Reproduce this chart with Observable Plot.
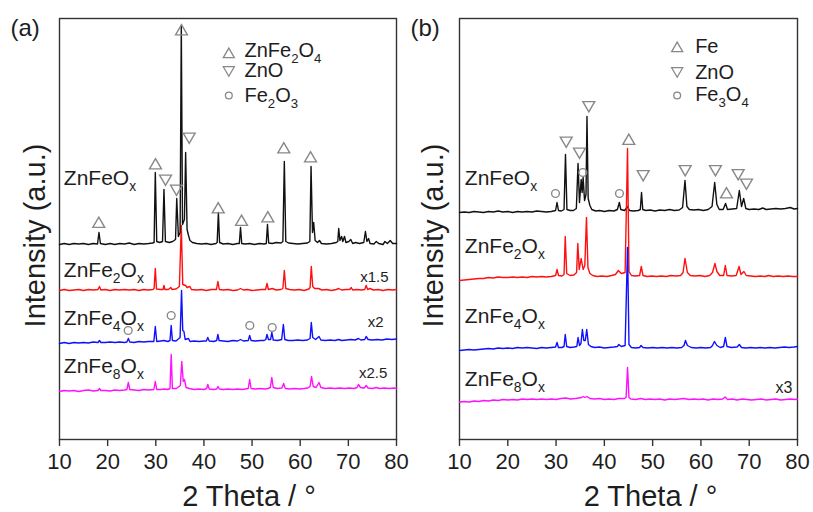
<!DOCTYPE html>
<html><head><meta charset="utf-8">
<script src="https://cdn.jsdelivr.net/npm/d3@7"></script>
<script src="https://cdn.jsdelivr.net/npm/@observablehq/plot@0.6"></script>
<style>
html,body{margin:0;padding:0;background:#fff;}
#wrap{position:relative;width:813px;height:512px;overflow:hidden;background:#fff;}
.panel{position:absolute;top:0;}
svg{overflow:visible;}
</style></head>
<body><div id="wrap"><div class="panel" id="pa" style="left:0"></div><div class="panel" id="pb" style="left:406px"></div></div>
<script>
// ---------- DATA (2θ in degrees, intensity in arbitrary display units above each trace's baseline) ----------
const xTicks = [10, 20, 30, 40, 50, 60, 70, 80];
const sampleNames = ["ZnFeO_{x}", "ZnFe_{2}O_{x}", "ZnFe_{4}O_{x}", "ZnFe_{8}O_{x}"];

// Panel (a)
const a_ZnFeOx = [[10,0],[11,1],[12,0],[13,1],[14,0.5],[15,1],[16,0],[17,1],[17.9,0.5],[18.2,12],[18.5,1],[19.5,0],[20.5,1],[21.5,0],[22.5,1],[23.5,0.5],[24.5,1.5],[25.5,0],[26.5,1],[27.5,0.5],[28.5,1],[29.3,1.5],[29.65,2],[29.9,72],[30.2,3],[30.8,2],[31.4,3],[31.7,55],[32,3],[32.8,2],[33.5,3],[34.1,5],[34.35,46],[34.7,8],[35.05,12],[35.3,219],[35.55,20],[35.95,25],[36.2,92],[36.5,15],[36.8,9],[37.1,4],[37.6,2],[38.5,1],[39.5,0.5],[40.5,1],[41.5,0],[42.5,1],[42.75,2],[43.0,32],[43.25,2],[44,0.5],[45,1],[46,0],[47,1],[47.35,1],[47.6,17],[47.85,1],[48.5,0.5],[49.5,1],[50.5,0],[51.5,1],[52.5,0.5],[52.95,1],[53.2,20],[53.45,1.5],[54.2,1],[55,2],[56,1.5],[56.4,3],[56.7,83],[57,3],[57.6,1.5],[58.5,1],[59.5,0.5],[60.5,1],[61.5,1.5],[62.0,3],[62.25,78],[62.55,12],[62.8,22],[63.1,4],[63.6,2],[64.0,4],[64.4,1],[65.5,0.5],[66.5,1],[67.5,2],[67.8,3],[68.0,16],[68.25,4],[68.6,8],[68.85,3],[69.2,8],[69.5,2],[70.1,3],[70.5,5],[70.9,1],[71.5,2],[72.3,1],[73.2,2],[73.55,13],[73.85,3],[74.2,6],[74.5,1],[75.3,0.5],[75.8,3],[76.3,1],[77.2,0],[77.6,3],[78.1,1],[78.7,4],[79.2,1],[80,1]];
const a_ZnFe2Ox = [[10,0],[11,1],[12,0],[13,0.5],[14,1],[15,0],[16,1],[17,0.5],[18,1],[18.3,4],[18.6,0.5],[19.5,1],[20.5,0],[21.5,1],[22.5,0.5],[23.5,1],[24.5,0.5],[25.5,1],[26.5,0],[27.5,1],[28.5,0.5],[29.4,1],[29.65,2],[29.9,22],[30.15,1.5],[31,1],[31.5,1],[31.7,5],[31.9,1],[32.6,1],[33.1,3],[33.4,1],[34.2,1.5],[34.9,4],[35.3,65],[35.6,6],[36.2,5],[36.5,3],[37.1,4],[37.4,1],[38.5,0.5],[39.5,1],[40.5,0],[41.5,1],[42.6,1],[42.9,9],[43.2,1],[44,0.5],[45,1],[46,0],[47,0.5],[47.6,2],[48.2,0.5],[49,1],[50,0],[51,0.5],[52,1],[52.8,1],[53.1,7],[53.4,1],[54.2,2],[55,0.5],[56,1],[56.4,2],[56.7,20],[57,2],[57.8,1],[58.8,0.5],[59.8,1],[60.8,0],[61.8,1.5],[62.05,3],[62.3,24],[62.6,4],[63,2],[63.8,2],[64.5,0.5],[65.5,1],[66.5,0],[67.5,1],[68,2],[68.6,0.5],[69.5,1],[70.3,1],[70.6,3],[70.9,0.5],[71.8,1],[72.7,0.5],[73.4,1],[73.7,5],[74.0,1],[74.5,2],[75.2,0.5],[76.2,1],[77.2,0],[78.2,1],[79.2,0.5],[80,1]];
const a_ZnFe4Ox = [[10,0],[11,1],[12,0],[13,1],[14,0.5],[15,1],[16,0.5],[17,1.5],[18,1],[18.3,3],[18.6,1],[19.5,1],[20.5,1.5],[21.5,1],[22.5,1.5],[23.5,1],[24.0,1.5],[24.3,5],[24.6,1.5],[25.5,1],[26.5,2],[27.5,1.5],[28.5,2],[29.6,2],[29.9,17],[30.2,2],[31,2.5],[31.7,3],[32.5,2],[32.95,3],[33.2,18],[33.45,3],[34.2,2.5],[35.05,6],[35.35,53],[35.6,13],[35.85,12],[36.1,4],[36.8,5],[37.1,2],[38,2.5],[39,2],[40,2.5],[40.5,2.5],[40.8,6],[41.1,2.5],[42,2],[42.65,3],[42.9,9],[43.15,3],[44,2.5],[45,2],[46,3],[47,2.5],[47.6,4],[48.2,2.5],[49.2,3],[49.5,8],[49.8,3],[50.7,2.5],[51.7,3],[52.5,3],[52.85,4],[53.1,9],[53.4,4],[53.85,4],[54.1,11],[54.4,3.5],[55.3,3],[56.15,4],[56.5,19],[56.8,4],[57.5,3],[58.5,3],[59.5,3.5],[60.5,3],[61.5,3.5],[62.05,5],[62.3,21],[62.6,6],[63.2,4],[63.9,7],[64.3,3.5],[65.2,3],[66.2,3.5],[67.2,3],[68,4],[68.6,3],[69.6,3.5],[70.6,4],[71.4,3.5],[72.1,5],[72.6,3.5],[73.4,4],[73.7,7],[74.1,4],[75,3.5],[76,4],[77,3.5],[78,4.5],[79,4],[80,4.5]];
const a_ZnFe8Ox = [[10,0],[11,1],[12,0.5],[13,1],[14,0],[15,1],[16,1.5],[17,0.5],[18,1],[18.3,3],[18.6,1],[19.5,1],[20.5,0.5],[21.5,1.5],[22.5,1],[23.5,1.5],[24.0,2],[24.3,9],[24.6,2],[25.5,1.5],[26.5,1],[27.5,2],[28.5,1.5],[29.6,2],[29.9,10],[30.2,2],[31,2],[31.8,2.5],[32.5,2],[32.95,3],[33.2,37],[33.45,3],[34.3,3],[35.1,6],[35.4,30],[35.7,10],[35.95,12],[36.3,4],[37,3],[38,2],[39,2.5],[40,2],[40.55,3],[40.8,7],[41.1,2.5],[42,2],[42.65,2.5],[42.9,5],[43.2,2.5],[44,2],[45,2.5],[46,2],[47,2.5],[48,2],[49.2,3],[49.5,12],[49.8,3],[50.7,2.5],[51.7,3],[52.7,2.5],[53.3,3],[53.8,4],[54.1,14],[54.4,4],[55.2,3],[56.2,3.5],[56.55,8],[56.9,3],[57.8,2.5],[58.8,3],[59.8,2.5],[60.8,3],[61.6,3.5],[62.05,5],[62.35,15],[62.7,5],[63.3,4],[63.9,9],[64.3,4],[65.2,3],[66.2,3.5],[67.2,3],[68.2,3.5],[69.2,3],[70.2,3.5],[71.2,3],[71.8,4],[72.1,7],[72.5,4],[73.3,3.5],[73.7,6],[74.1,3.5],[75,3],[75.8,4],[76.5,3],[77.5,3.5],[78.5,3],[79.5,3.5],[80,3]];
const aOffsets = [195, 149, 96, 48];
const aScaleTexts = ["x1.5", "x2", "x2.5"];
// phase markers (a): [2θ, height]
const aZnFe2O4 = [[18.16,215.5],[29.94,274],[35.34,408],[42.97,230],[47.81,217.5],[53.27,221],[56.59,290],[62.14,281]];
const aZnO = [[32.02,261],[34.3,251],[36.94,303]];
const aFe2O3 = [[24.27,109],[33.2,124],[49.53,114],[54.18,112]];
const aLegendNames = ["ZnFe_{2}O_{4}", "ZnO", "Fe_{2}O_{3}"];

// Panel (b)
const b_ZnFeOx = [[10,0],[11,0.5],[12,0],[13,1],[14,0.5],[15,0],[16,1],[17,0.5],[18,1.5],[19,0.5],[20,1],[21,0],[22,1],[23,0.5],[24,1],[25,0.5],[26,1.5],[27,1],[28,0.5],[29,1],[29.9,2],[30.2,10],[30.5,2],[31.1,1.5],[31.65,3],[31.95,58],[32.25,3],[32.9,2],[33.6,2],[34.2,4],[34.55,49],[34.85,10],[35.2,33],[35.4,20],[35.6,35],[35.9,12],[36.2,18],[36.4,96],[36.65,14],[37,7],[37.4,3],[38.2,1.5],[39,2],[40,1],[41,2],[42,1.5],[42.7,3],[43.1,10],[43.4,3],[44.2,2],[44.8,6],[45.2,2],[46,1.5],[47,2],[47.45,3],[47.7,20],[47.95,3],[48.6,2],[49.5,2.5],[50.5,1.5],[51.5,2.5],[52.5,2],[53.5,3],[54.5,2],[55.5,2.5],[56.2,5],[56.7,32],[57.1,6],[57.6,3],[58.5,2.5],[59.5,3],[60.5,2],[61.5,3],[62.3,6],[62.85,30],[63.3,8],[63.8,3],[64.6,3],[65.1,9],[65.5,3],[66.5,3.5],[67.4,4],[67.95,22],[68.4,6],[68.85,14],[69.3,4],[70,3],[71,3.5],[72,3],[72.8,4.5],[73.5,3],[74.5,3.5],[75.5,4],[76.5,3.5],[77.5,4],[78.5,5],[79.3,3.5],[80,4]];
const b_ZnFe2Ox = [[10,-3],[11,-2.5],[12,-2],[13,-1.5],[14,-1],[15,-1],[16,0],[17,-0.5],[18,0.5],[19,0],[20,0],[21,0.5],[22,0],[23,0.5],[24,0],[25,1],[26,0.5],[27,1],[28,0.5],[29,1],[29.9,2],[30.2,8],[30.5,2],[31.2,1.5],[31.65,3],[31.9,41],[32.2,4],[32.9,2],[33.7,2.5],[34.25,5],[34.5,34],[34.8,8],[35.2,19],[35.6,8],[35.95,12],[36.3,60],[36.6,10],[37,4],[37.6,2],[38.5,1],[39.5,1.5],[40.5,1],[41.5,2],[42.3,3],[42.9,7],[43.5,4],[44.3,5],[44.8,129],[45.1,6],[45.6,2],[46.5,1.5],[47.3,2],[47.65,11],[48,2],[48.8,1],[49.8,1.5],[50.8,1],[51.8,1.5],[52.8,1],[53.8,2],[54.8,1.5],[55.8,2],[56.3,5],[56.7,19],[57.2,5],[57.8,2],[58.8,1.5],[59.8,2],[60.8,1],[61.8,2],[62.4,5],[62.9,14],[63.3,6],[63.9,2],[64.7,2],[65.05,12],[65.4,2],[66.3,1.5],[67.3,2],[67.9,11],[68.3,3],[68.9,6],[69.4,2],[70.3,1.5],[71.3,1],[72.3,1.5],[73.3,1],[74,2],[75,1],[76,1.5],[77,1],[78,1.5],[79,1],[80,1]];
const b_ZnFe4Ox = [[10,-2],[11,-1.5],[12,-1],[13,-1.5],[14,-1],[15,-0.5],[16,0],[17,-0.5],[18,0.5],[19,0],[20,0.5],[21,0],[22,1],[23,0.5],[24,1],[25,0.5],[26,0],[27,1],[28,0.5],[29,1],[29.9,1.5],[30.2,6],[30.5,1],[31.2,1],[31.65,2],[31.9,14],[32.2,2],[32.9,1],[33.7,1.5],[34.3,2],[34.55,11],[34.85,3],[35.15,5],[35.45,19],[35.75,8],[36.05,8],[36.35,19],[36.7,4],[37.2,2],[38,1],[39,1.5],[40,0.5],[41,1],[42,1.5],[42.7,2],[43.0,4],[43.5,2],[44.3,3],[44.8,101],[45.1,4],[45.6,1],[46.5,0.5],[47.3,1],[47.6,3],[48,1],[49,0.5],[50,1],[51,0.5],[52,1],[53,0.5],[54,1],[55,0.5],[56,1],[56.5,3],[56.8,8],[57.2,3],[58,1],[59,0.5],[60,1],[61,0.5],[62,1],[62.4,3],[62.8,7],[63.3,3],[64,1],[64.7,2],[65.05,11],[65.4,2],[66.3,1],[67.5,1.5],[67.95,4],[68.4,1],[69.3,0.5],[70.3,1],[71.3,0.5],[72.3,1],[73.3,0.5],[74.3,1],[75.3,0.5],[76.3,1],[77.3,1.5],[78.3,1],[79.3,1.5],[80,2]];
const b_ZnFe8Ox = [[10,-2.5],[11,-2],[12,-2.5],[13,-1.5],[14,-2],[15,-1],[16,-1.5],[17,-0.5],[18,-1],[19,0],[20,-0.5],[21,0],[22,-0.5],[23,0.5],[24,0],[25,0.5],[26,0],[27,0.5],[28,0],[29,0.5],[30,0],[31,1],[32,1.5],[33,0.5],[34,1],[35.3,2],[35.6,3],[36,2],[36.4,3],[37,1],[38,0.5],[39,1],[40,0],[41,0.5],[42,0],[43,1],[44.2,1],[44.5,2],[44.8,32],[45.1,2],[45.5,0.5],[46.5,0],[47.5,1],[48.5,0],[49.5,0.5],[50.5,0],[51.5,0.5],[52.5,-0.5],[53.5,0.5],[54.5,0],[55.5,0.5],[56.5,1],[57.5,0],[58.5,0.5],[59.5,0],[60.5,0.5],[61.5,-0.5],[62.5,0.5],[63.5,0],[64.5,0.5],[65,2.5],[65.5,0],[66.5,0.5],[67.5,-0.5],[68.5,0.5],[69.5,0],[70.5,-0.5],[71.5,0],[72.5,0.5],[73.5,-0.5],[74.5,0],[75.5,0.5],[76.5,-0.5],[77.5,0],[78.5,0.5],[79.5,0],[80,0.5]];
const bOffsets = [227, 162, 91, 40];
const bScaleTexts = ["x3"];
// phase markers (b): [2θ, height]
const bFe = [[45.06,298.5],[65.29,245]];
const bZnO = [[32.1,299],[34.85,288],[36.78,334.5],[48.04,265.5],[56.74,270.5],[63.0,270.5],[67.71,266.5],[69.43,257]];
const bFe3O4 = [[29.88,246],[35.53,267],[43.13,246]];
const bLegendNames = ["Fe", "ZnO", "Fe_{3}O_{4}"];

// ---------- LAYOUT / STYLE ----------
const traceColors = ["#111111", "#ff1010", "#1010ff", "#ff10ff"];
const markGray = "#888888";
const ink = "#1e1e1e";
const FONT = "'Liberation Sans', Arial, Helvetica, sans-serif";

const triangleDown = {
  draw(context, size) {
    const y = -Math.sqrt(size / (Math.sqrt(3) * 3));
    context.moveTo(0, -y * 2);
    context.lineTo(-Math.sqrt(3) * y, y);
    context.lineTo(Math.sqrt(3) * y, y);
    context.closePath();
  }
};

function rows(pairs, offset) { return pairs.map(([t, v]) => ({t, v: v + offset})); }

function makePanel(cfg) {
  const marks = [Plot.frame({stroke: "#333", strokeWidth: 1.4})];
  for (const i of cfg.order) {
    marks.push(Plot.line(rows(cfg.series[i], cfg.offsets[i]), {x: "t", y: "v", stroke: traceColors[i], strokeWidth: 1.4, strokeLinejoin: "round"}));
  }
  const sym = [["triangle", cfg.markers[0], 4.4], [triangleDown, cfg.markers[1], 4.4], ["circle", cfg.markers[2], 3.9]];
  for (const [s, data, r] of sym) {
    marks.push(Plot.dot(data, {x: d => d[0], y: d => d[1], symbol: s, r, stroke: markGray, strokeWidth: 1.4, fill: "none"}));
  }
  // legend
  const lsym = ["triangle", triangleDown, "circle"];
  lsym.forEach((s, i) => {
    marks.push(Plot.dot([i], {x: () => cfg.legX, y: () => cfg.legMarkY[i], symbol: s, r: i === 2 ? 3.4 : 4.1, stroke: markGray, strokeWidth: 1.3, fill: "none"}));
  });
  marks.push(Plot.text(cfg.legendNames, {x: () => cfg.legTextX, y: (d, i) => cfg.legTextY[i], text: d => d, textAnchor: "start", lineAnchor: "middle", fontSize: 20, fill: ink}));
  // sample labels
  marks.push(Plot.text(sampleNames, {x: () => cfg.labelX, y: (d, i) => cfg.labelY[i], text: d => d, textAnchor: "start", lineAnchor: "middle", fontSize: 21, fill: ink}));
  // scale factors
  marks.push(Plot.text(cfg.scaleTexts, {x: (d, i) => cfg.scaleX[i], y: (d, i) => cfg.scaleY[i], text: d => d, textAnchor: "end", lineAnchor: "middle", fontSize: cfg.scaleSize, fill: ink}));
  // axes
  marks.push(Plot.axisX({ticks: xTicks, tickSize: 7, tickPadding: 7, fontSize: 22, tickFormat: d => String(d), label: null, stroke: "#333", strokeWidth: 1.4, fill: ink}));
  marks.push(Plot.text(["2 Theta / \u00b0"], {frameAnchor: "bottom", text: d => d, dx: cfg.xlabDx, dy: 57, fontSize: 29, lineAnchor: "middle", fill: ink}));
  marks.push(Plot.text(["Intensity (a.u.)"], {frameAnchor: "left", text: d => d, rotate: -90, dx: cfg.ylabDx, dy: 6.5, fontSize: 29, lineAnchor: "middle", textAnchor: "middle", fill: ink}));
  marks.push(Plot.text([cfg.tag], {frameAnchor: "top-left", text: d => d, dx: -49, dy: 10, fontSize: 24, textAnchor: "start", lineAnchor: "middle", fill: ink}));
  return Plot.plot({
    width: cfg.width, height: 512,
    marginLeft: cfg.ml, marginRight: cfg.mr, marginTop: 18, marginBottom: 73,
    style: {fontFamily: FONT, background: "transparent", overflow: "visible", color: ink},
    x: {domain: [10, 80], label: null},
    y: {domain: [0, 421], axis: null, label: null},
    marks
  });
}

function applySubs(svg) {
  svg.querySelectorAll("text").forEach(t => {
    const s = t.textContent;
    if (!s.includes("_{")) return;
    const fs = parseFloat(getComputedStyle(t).fontSize) || 20;
    while (t.firstChild) t.removeChild(t.firstChild);
    const parts = s.split(/(_\{[^}]*\})/).filter(p => p.length);
    let shifted = false;
    const ns = "http://www.w3.org/2000/svg";
    for (const p of parts) {
      const ts = document.createElementNS(ns, "tspan");
      if (p.startsWith("_{")) {
        ts.textContent = p.slice(2, -1);
        ts.setAttribute("font-size", (0.66 * fs).toFixed(2));
        if (!shifted) ts.setAttribute("dy", (0.28 * fs).toFixed(2));
        shifted = true;
      } else {
        ts.textContent = p;
        if (shifted) ts.setAttribute("dy", (-0.28 * fs).toFixed(2));
        shifted = false;
      }
      t.appendChild(ts);
    }
  });
}

const pa = makePanel({
  series: [a_ZnFeOx, a_ZnFe2Ox, a_ZnFe4Ox, a_ZnFe8Ox], offsets: aOffsets, order: [3, 2, 1, 0],
  markers: [aZnFe2O4, aZnO, aFe2O3], legendNames: aLegendNames,
  legX: 45.17, legMarkY: [385, 369.6, 344], legTextX: 48.43, legTextY: [389, 369, 344],
  labelX: 10.9, labelY: [261.5, 169.5, 121.5, 73.5],
  scaleTexts: aScaleTexts, scaleX: [78.34, 77.3, 78.1], scaleY: [162, 117, 66], scaleSize: 15,
  width: 406, ml: 59, mr: 10, xlabDx: 21, ylabDx: -24, tag: "(a)"
});
const pb = makePanel({
  series: [b_ZnFeOx, b_ZnFe2Ox, b_ZnFe4Ox, b_ZnFe8Ox], offsets: bOffsets, order: [0, 1, 2, 3],
  markers: [bFe, bZnO, bFe3O4], legendNames: bLegendNames,
  legX: 55.08, legMarkY: [391, 368.6, 344], legTextX: 58.8, legTextY: [393, 367.3, 345],
  labelX: 11.1, labelY: [261, 193, 123, 60],
  scaleTexts: bScaleTexts, scaleX: [78.96], scaleY: [51.5], scaleSize: 16,
  width: 407, ml: 53, mr: 16, xlabDx: 22, ylabDx: -26, tag: "(b)"
});
document.getElementById("pa").appendChild(pa);
document.getElementById("pb").appendChild(pb);
applySubs(pa);
applySubs(pb);
</script>
</body></html>
